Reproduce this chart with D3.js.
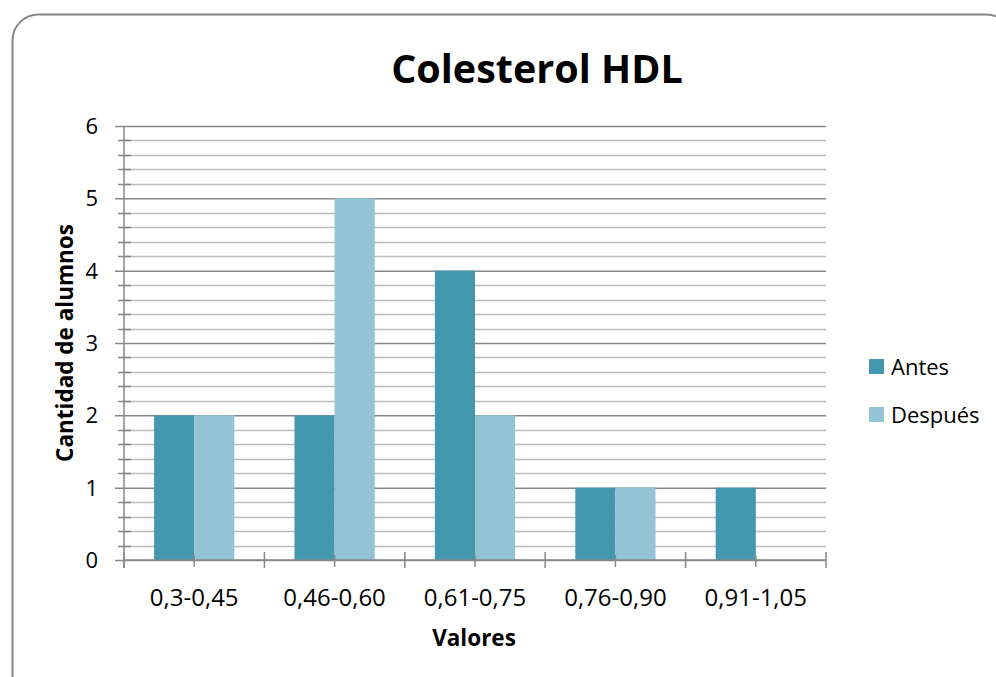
<!DOCTYPE html>
<html>
<head>
<meta charset="utf-8">
<script src="https://cdn.jsdelivr.net/npm/d3@7"></script>
<style>
  body { margin: 0; background: #fff; }
  svg { display: block; font-family: "Open Sans", sans-serif; }
</style>
</head>
<body>
<div id="chart"></div>
<script>
// data
var categories = ['0,3-0,45', '0,46-0,60', '0,61-0,75', '0,76-0,90', '0,91-1,05'];
var series = ['Antes', 'Después'];
var antes = [2, 2, 4, 1, 1];
var despues = [2, 5, 2, 1, 0];
var yTicks = [0, 1, 2, 3, 4, 5, 6];

var colors = { 'Antes': '#4398B0', 'Después': '#93C4D5' };
var values = { 'Antes': antes, 'Después': despues };

var width = 996, height = 677;
var plot = { left: 124, right: 826, top: 126, bottom: 560 };

var svg = d3.select('#chart')
  .append('svg')
  .attr('width', width)
  .attr('height', height);

// outer frame
svg.append('rect')
  .attr('x', 12.5).attr('y', 14.5)
  .attr('width', 1000).attr('height', 700)
  .attr('rx', 26).attr('ry', 26)
  .attr('fill', '#fff')
  .attr('stroke', '#868686')
  .attr('stroke-width', 2);

// scales
var y = d3.scaleLinear().domain([0, 6]).range([plot.bottom, plot.top]);
var x0 = d3.scaleBand().domain(categories).range([plot.left, plot.right]).padding(0);
var x1 = d3.scaleBand().domain(series).range([0, x0.bandwidth()])
  .paddingInner(0).paddingOuter(0.75);

// minor gridlines
var minor = d3.range(0, 6.001, 0.2).filter(function(v){ return Math.abs(v - Math.round(v)) > 0.01; });
svg.append('g').selectAll('line')
  .data(minor)
  .enter().append('line')
  .attr('x1', plot.left).attr('x2', plot.right)
  .attr('y1', function(d){ return Math.round(y(d)) + 0.5; })
  .attr('y2', function(d){ return Math.round(y(d)) + 0.5; })
  .attr('stroke', '#BDBDBD').attr('stroke-width', 1.5);

// major gridlines + y axis
var yAxis = d3.axisLeft(y)
  .tickValues(yTicks)
  .tickSize(plot.right - plot.left + 9)
  .tickFormat('')
  .tickSizeOuter(0);
var gy = svg.append('g')
  .attr('transform', 'translate(' + plot.right + ',0)')
  .call(yAxis);
gy.select('.domain').remove();
gy.selectAll('.tick line')
  .attr('stroke', '#878787').attr('stroke-width', 1.5);

// y tick labels
svg.append('g').selectAll('text')
  .data(yTicks)
  .enter().append('text')
  .attr('x', 98)
  .attr('y', function(d){ return y(d) + 8; })
  .attr('text-anchor', 'end')
  .attr('font-size', 22)
  .attr('fill', '#000')
  .text(function(d){ return d; });

// bars
var groups = svg.append('g').selectAll('g')
  .data(categories)
  .enter().append('g')
  .attr('transform', function(d){ return 'translate(' + x0(d) + ',0)'; });

groups.selectAll('rect')
  .data(function(d, i){ return series.map(function(s){ return { key: s, value: values[s][i] }; }); })
  .enter().append('rect')
  .attr('x', function(d){ return x1(d.key); })
  .attr('width', x1.bandwidth())
  .attr('y', function(d){ return y(d.value); })
  .attr('height', function(d){ return y(0) - y(d.value); })
  .attr('fill', function(d){ return colors[d.key]; });

// y axis line and minor ticks
svg.append('line')
  .attr('x1', plot.left).attr('x2', plot.left)
  .attr('y1', plot.top).attr('y2', plot.bottom + 8)
  .attr('stroke', '#878787').attr('stroke-width', 1.5);
svg.append('g').selectAll('line')
  .data(minor)
  .enter().append('line')
  .attr('x1', plot.left - 6).attr('x2', plot.left + 7)
  .attr('y1', function(d){ return Math.round(y(d)) + 0.5; })
  .attr('y2', function(d){ return Math.round(y(d)) + 0.5; })
  .attr('stroke', '#878787').attr('stroke-width', 1.5);

// x axis
svg.append('line')
  .attr('x1', plot.left).attr('x2', plot.right)
  .attr('y1', y(0)).attr('y2', y(0))
  .attr('stroke', '#878787').attr('stroke-width', 1.5);
var bounds = categories.map(function(c){ return x0(c); }).concat([plot.right]);
svg.append('g').selectAll('line')
  .data(bounds)
  .enter().append('line')
  .attr('x1', function(d){ return d; }).attr('x2', function(d){ return d; })
  .attr('y1', y(0) - 8).attr('y2', y(0) + 8)
  .attr('stroke', '#878787').attr('stroke-width', 1.5);
svg.append('g').selectAll('line')
  .data(categories)
  .enter().append('line')
  .attr('x1', function(d){ return x0(d) + x0.bandwidth() / 2; })
  .attr('x2', function(d){ return x0(d) + x0.bandwidth() / 2; })
  .attr('y1', y(0) - 5).attr('y2', y(0) + 7)
  .attr('stroke', '#878787').attr('stroke-width', 1.5);

// x labels
svg.append('g').selectAll('text')
  .data(categories)
  .enter().append('text')
  .attr('x', function(d){ return x0(d) + x0.bandwidth() / 2; })
  .attr('y', 606)
  .attr('text-anchor', 'middle')
  .attr('font-size', 24)
  .attr('fill', '#000')
  .text(function(d){ return d; });

// titles
svg.append('text')
  .attr('x', 537).attr('y', 83)
  .attr('text-anchor', 'middle')
  .attr('font-size', 39.5)
  .attr('font-weight', 'bold')
  .text('Colesterol HDL');

svg.append('text')
  .attr('x', 474).attr('y', 646)
  .attr('text-anchor', 'middle')
  .attr('font-size', 22.5)
  .attr('font-weight', 'bold')
  .text('Valores');

svg.append('text')
  .attr('transform', 'translate(73,343) rotate(-90)')
  .attr('text-anchor', 'middle')
  .attr('font-size', 22.5)
  .attr('font-weight', 'bold')
  .text('Cantidad de alumnos');

// legend
var legend = svg.append('g').selectAll('g')
  .data(series)
  .enter().append('g')
  .attr('transform', function(d, i){ return 'translate(869,' + (359 + i * 48) + ')'; });
legend.append('rect')
  .attr('width', 15).attr('height', 15)
  .attr('fill', function(d){ return colors[d]; });
legend.append('text')
  .attr('x', 22).attr('y', 16)
  .attr('font-size', 22)
  .text(function(d){ return d; });
</script>
</body>
</html>
